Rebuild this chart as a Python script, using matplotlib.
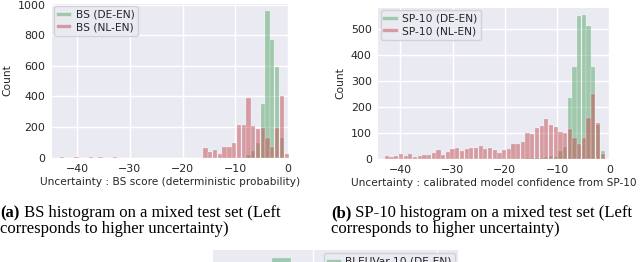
import numpy as np
import matplotlib
matplotlib.use("Agg")
import matplotlib.pyplot as plt
from matplotlib.lines import Line2D

# --- data ---
# (a) BS score histogram, 48 common bins
bs_range = (-43.25, 0.15)
bs_de = [0, 0, 0, 0, 0, 0, 0, 0, 0, 0, 0, 0, 0, 0, 0, 0, 0, 0, 0, 0,
         0, 0, 0, 0, 0, 0, 0, 0, 0, 0, 0, 0, 0, 0, 0, 0, 0, 0, 0, 15,
         42, 97, 352, 960, 769, 593, 130, 0]
bs_nl = [1, 0, 0, 1, 0, 0, 2, 0, 1, 0, 0, 1, 0, 0, 0, 0, 0, 0, 0, 0,
         0, 0, 0, 0, 0, 0, 0, 0, 0, 0, 62, 35, 50, 22, 70, 70, 92, 211, 215, 390,
         207, 186, 196, 125, 70, 196, 405, 22]

# (b) SP-10 histogram, 47 common bins
sp_range = (-43.05, -0.82)
sp_de = [0, 0, 0, 0, 0, 0, 0, 0, 0, 0, 0, 0, 0, 0, 0, 0, 0, 0, 0, 0,
         0, 0, 0, 0, 0, 0, 0, 0, 0, 0, 2, 3, 3, 4, 5, 10, 8, 30, 45, 234,
         355, 549, 553, 511, 353, 131, 28]
sp_nl = [9, 6, 9, 17, 10, 18, 5, 10, 15, 15, 21, 32, 13, 26, 37, 40, 28, 36, 40, 40,
         49, 36, 40, 32, 23, 32, 36, 55, 55, 63, 100, 95, 118, 125, 152, 129, 122, 103, 100, 116,
         81, 58, 80, 157, 250, 139, 17]

# (c) BLEUVar-10 histogram, only the top strip is visible
bv_range = (-1.0, 0.0)
bv_de = [0, 0, 950, 0, 0, 0, 0, 0, 0, 0]

labels_a = ["BS (DE-EN)", "BS (NL-EN)"]
labels_b = ["SP-10 (DE-EN)", "SP-10 (NL-EN)"]
labels_c = ["BLEUVar-10 (DE-EN)"]
xlabel_a = "Uncertainty : BS score (deterministic probability)"
xlabel_b = "Uncertainty : calibrated model confidence from SP-10"
cap_a = ["(a)", " BS histogram on a mixed test set (Left", "corresponds to higher uncertainty)"]
cap_b = ["(b)", " SP-10 histogram on a mixed test set (Left", "corresponds to higher uncertainty)"]

GREEN = "#55A868"
RED = "#C44E52"
BG = "#EAEAF2"
TXT = "#262626"
W, H = 640, 262

plt.rcParams["font.family"] = "DejaVu Sans"
fig = plt.figure(figsize=(W / 100, H / 100), dpi=100)


def px_axes(l, t, r, b):
    return fig.add_axes([l / W, 1 - b / H, (r - l) / W, (b - t) / H])


def style(ax):
    ax.set_facecolor(BG)
    for s in ax.spines.values():
        s.set_visible(False)
    ax.grid(True, color="white", linewidth=1.0)
    ax.set_axisbelow(True)
    ax.tick_params(length=0, pad=4.5, labelsize=7.9, colors=TXT)


def hist(ax, rng, counts, color):
    edges = np.linspace(rng[0], rng[1], len(counts) + 1)
    centers = (edges[:-1] + edges[1:]) / 2
    width = edges[1] - edges[0]
    ax.bar(centers, counts, width=width * 0.9, color=color, alpha=0.5,
           edgecolor="white", linewidth=0.3)


def legend(ax, labels, loc):
    handles = [Line2D([], [], color=c, alpha=0.5, linewidth=2.4) for c in (GREEN, RED)][:len(labels)]
    lg = ax.legend(handles, labels, loc=loc, fontsize=7.7, handlelength=1.05,
                   handletextpad=0.6, labelspacing=0.2, borderpad=0.35,
                   borderaxespad=0.25, frameon=True, facecolor=BG, edgecolor="0.8",
                   framealpha=0.8, fancybox=True)
    for t in lg.get_texts():
        t.set_color(TXT)


# (a)
ax1 = px_axes(51.7, 3.5, 289.3, 157.5)
style(ax1)
hist(ax1, bs_range, bs_de, GREEN)
hist(ax1, bs_range, bs_nl, RED)
ax1.set_xlim(-44.8, 0.2)
ax1.set_ylim(0, 1008)
ax1.set_xticks([-40, -30, -20, -10, 0])
ax1.set_yticks([0, 200, 400, 600, 800, 1000])
ax1.set_ylabel("Count", fontsize=7.7, color=TXT, labelpad=4)
ax1.set_xlabel(xlabel_a, fontsize=7.6, color=TXT, labelpad=2.5)
legend(ax1, labels_a, "upper left")

# (b)
ax2 = px_axes(378, 7.5, 609.8, 158.7)
style(ax2)
hist(ax2, sp_range, sp_de, GREEN)
hist(ax2, sp_range, sp_nl, RED)
ax2.set_xlim(-44.3, 0.1)
ax2.set_ylim(0, 583)
ax2.set_xticks([-40, -30, -20, -10, 0])
ax2.set_yticks([0, 100, 200, 300, 400, 500])
ax2.set_ylabel("Count", fontsize=7.7, color=TXT, labelpad=4)
ax2.set_xlabel(xlabel_b, fontsize=7.6, color=TXT, labelpad=2.5)
legend(ax2, labels_b, "upper left")

# (c) partially visible panel at the bottom
ax3 = px_axes(213, 250, 458, 400)
style(ax3)
hist(ax3, bv_range, bv_de, GREEN)
ax3.set_xlim(-1.08, 0.1)
ax3.set_ylim(0, 1000)
ax3.set_xticks([-0.6, 0.0])
ax3.set_yticks([])
ax3.tick_params(labelbottom=False)
legend(ax3, labels_c, "upper right")

# captions
fig.canvas.draw()
renderer = fig.canvas.get_renderer()
for x0, cap in [(0.5, cap_a), (331, cap_b)]:
    tb = fig.text(x0 / W, 1 - 213 / H, cap[0], fontweight="bold", family="Liberation Serif",
                  fontsize=12.0, va="center", ha="left", color="black")
    bb = tb.get_window_extent(renderer)
    fig.text(bb.x1 / W, 1 - 213 / H, cap[1], family="Liberation Serif",
             fontsize=12.0, va="center", ha="left", color="black")
    fig.text(x0 / W, 1 - 229 / H, cap[2], family="Liberation Serif",
             fontsize=12.0, va="center", ha="left", color="black")

fig.savefig("out.png", dpi=100)
